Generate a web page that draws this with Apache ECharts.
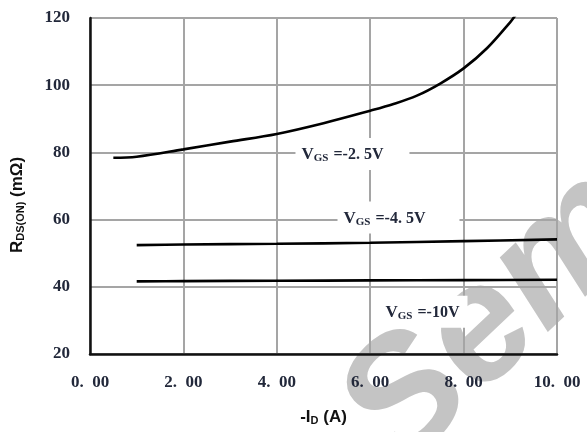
<!DOCTYPE html>
<html><head><meta charset="utf-8">
<script src="https://cdn.jsdelivr.net/npm/echarts@6/dist/echarts.min.js"></script>
<style>html,body{margin:0;padding:0;background:#fff}#c{width:587px;height:432px}</style>
</head><body><div id="c"></div>
<script>
// ---- data ----
const xTicks = [0, 2, 4, 6, 8, 10];
const yTicks = [20, 40, 60, 80, 100, 120];
const vgs25_x = [0.5, 1.0, 2.0, 3.0, 4.0, 5.0, 6.0, 6.5, 7.0, 7.5, 8.0, 8.5, 9.0, 9.12];
const vgs25_y = [78.4, 78.7, 80.9, 83.2, 85.5, 88.7, 92.4, 94.4, 96.9, 100.5, 105.0, 111.0, 118.8, 121.0];
const vgs45_x = [1.0, 2.0, 4.0, 6.0, 8.0, 10.0];
const vgs45_y = [52.4, 52.6, 52.8, 53.1, 53.6, 54.1];
const vgs10_x = [1.0, 2.0, 4.0, 6.0, 8.0, 10.0];
const vgs10_y = [41.6, 41.7, 41.8, 41.9, 42.0, 42.1];
const seriesNames = ['-2. 5V', '-4. 5V', '-10V'];

const pairs = (xs, ys) => xs.map((x, i) => [x, ys[i]]);
const chart = echarts.init(document.getElementById('c'), null, {renderer: 'canvas'});
const serif = '"Liberation Serif","DejaVu Serif",serif';
const sans = '"Liberation Sans","DejaVu Sans",Arial,sans-serif';
const lineStyle = {color: '#000', width: 2.6};
function mk(name, xs, ys) {
  return {name, type: 'line', data: pairs(xs, ys), smooth: 0.35, symbol: 'none',
    lineStyle, z: 5, clip: true};
}
const txtCol = '#22283a';
function vLabel(txt, padR) {
  return {
    text: '{v|V}{s|GS}{t| =' + txt + '}',
    rich: {
      v: {fontFamily: serif, fontSize: 17, fill: txtCol, fontWeight: 'bold'},
      s: {fontFamily: serif, fontSize: 11, fill: txtCol, fontWeight: 'bold', verticalAlign: 'bottom', padding: [7, 1, 0, 0]},
      t: {fontFamily: serif, fontSize: 16, fill: txtCol, fontWeight: 'bold'}
    },
    backgroundColor: '#fff', padding: [8, padR, 6, 6], textVerticalAlign: 'middle'
  };
}
chart.setOption({
  animation: false,
  grid: {left: 90, right: 30, top: 18, bottom: 78},
  xAxis: {
    type: 'value', min: xTicks[0], max: xTicks[xTicks.length - 1], interval: 2,
    name: '{a|-I}{b|D}{a| (A)}', nameLocation: 'middle', nameGap: 54,
    nameTextStyle: {rich: {
      a: {fontFamily: sans, fontWeight: 'bold', fontSize: 17, color: '#111'},
      b: {fontFamily: sans, fontWeight: 'bold', fontSize: 11, color: '#111', verticalAlign: 'bottom', padding: [7, 0, 0, 0]}
    }},
    axisLine: {show: true, lineStyle: {color: '#111', width: 2.5}},
    axisTick: {show: false},
    axisLabel: {margin: 20, fontFamily: serif, fontSize: 17, fontWeight: 'bold', color: txtCol,
      formatter: v => v.toFixed(2).replace('.', '.\u2002')},
    splitLine: {show: true, lineStyle: {color: '#a5a5a5', width: 2}}
  },
  yAxis: {
    type: 'value', min: yTicks[0], max: yTicks[yTicks.length - 1], interval: 20,
    axisLine: {show: true, lineStyle: {color: '#111', width: 2.5}},
    axisTick: {show: false},
    axisLabel: {margin: 20, fontFamily: serif, fontSize: 17, fontWeight: 'bold', color: txtCol},
    splitLine: {show: true, lineStyle: {color: '#a5a5a5', width: 2}}
  },
  series: [
    mk(seriesNames[0], vgs25_x, vgs25_y),
    mk(seriesNames[1], vgs45_x, vgs45_y),
    mk(seriesNames[2], vgs10_x, vgs10_y)
  ]
});
// annotation labels placed in data coordinates
const labelAt = [[4.4, 79.5], [5.3, 60.6], [6.2, 32.6]];
const padRight = [26, 34, 8];
const g = labelAt.map((p, i) => {
  const px = chart.convertToPixel({gridIndex: 0}, p);
  return {type: 'text', x: px[0], y: px[1], z: 10, style: vLabel(seriesNames[i], padRight[i])};
});
// y-axis title
g.push({type: 'text', x: 17, y: 205, rotation: Math.PI / 2, z: 10,
  style: {text: '{a|R}{b|DS(ON)}{a| (mΩ)}', textAlign: 'center', textVerticalAlign: 'middle',
    rich: {
      a: {fontFamily: sans, fontWeight: 'bold', fontSize: 17, fill: '#111'},
      b: {fontFamily: sans, fontWeight: 'bold', fontSize: 11, fill: '#111', verticalAlign: 'bottom', padding: [7, 0, 0, 0]}
    }}});
// watermark (underlay)
g.push({type: 'text', x: 368, y: 440, rotation: 0.76, z: -10, silent: true,
  style: {text: 'Semi', fontFamily: sans, fontStyle: 'italic', fontWeight: 'bold', fontSize: 165,
    fill: '#c4c4c4', textVerticalAlign: 'middle'}});
chart.setOption({graphic: g});
</script></body></html>
